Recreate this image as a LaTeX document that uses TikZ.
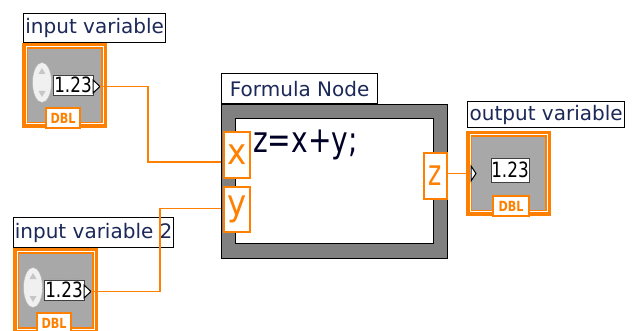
\documentclass[tikz,border=0pt]{standalone}
\usepackage{fontspec}
\setmainfont{DejaVu Sans}
\usepackage{graphicx}

\definecolor{lvorange}{RGB}{255,128,0}
\definecolor{ctlgray}{RGB}{168,168,168}
\definecolor{framegray}{RGB}{128,128,128}
\definecolor{lblblue}{RGB}{28,40,88}

\tikzset{
  lbl/.style={draw=black, line width=1.3pt, fill=white, anchor=north west,
    inner sep=0pt, text=lblblue, font=\fontsize{20}{20}\selectfont},
  wire/.style={draw=lvorange, line width=1.6pt},
  term/.style={draw=lvorange, line width=2pt, fill=white, anchor=north west,
    inner sep=0pt, text=lvorange, font=\fontsize{36}{36}\selectfont},
  dbltag/.style={draw=lvorange, line width=1.5pt, fill=white, inner sep=0pt,
    text=lvorange, font=\bfseries\fontsize{14}{14}\selectfont,
    minimum width=34pt, minimum height=20pt},
  numbox/.style={draw=black!75, line width=0.8pt, fill=white, inner sep=0pt,
    font=\fontsize{21}{21}\selectfont},
  tip/.style={draw=black, line width=1pt, fill=white},
  fframe/.style={draw=black, line width=1pt, fill=framegray, anchor=north west, inner sep=0pt},
  fbody/.style={draw=black, line width=1pt, fill=white, inner sep=0pt},
  % numeric control, value leaves on the right
  infr/.pic={
    \fill[lvorange] (0,0) rectangle (85,85);
    \fill[white] (3.5,3.5) rectangle (81.5,81.5);
    \filldraw[draw=lvorange, fill=ctlgray, line width=1.5pt] (5.25,5.25) rectangle (79.75,79.75);
    \filldraw[draw=gray!60, fill=gray!12] (20,39.5) ellipse (9.5pt and 20pt);
    \fill[gray!45] (20,25) -- (16.5,31) -- (23.5,31) -- cycle;
    \fill[gray!45] (20,54) -- (16.5,48) -- (23.5,48) -- cycle;
    \draw[gray!75, dotted, line width=1pt] (32,30) -- (70,30);
    \node[numbox, minimum width=40pt, minimum height=20pt] (-num) at (51,42) {\scalebox{0.8}[1]{1.23}};
    \filldraw[tip] (71,37) -- (78,43.5) -- (71,50) -- cycle;
    \coordinate (-out) at (78,43.5);
    \node[dbltag] (-type) at (41,75) {\scalebox{0.8}[1]{DBL}};
  },
  % numeric indicator, value comes in on the left
  outfr/.pic={
    \fill[lvorange] (0,0) rectangle (85,85);
    \fill[white] (3.5,3.5) rectangle (81.5,81.5);
    \filldraw[draw=lvorange, fill=ctlgray, line width=1.5pt] (5.25,5.25) rectangle (79.75,79.75);
    \draw[gray!75, dotted, line width=1pt] (26,25) -- (62,25);
    \node[numbox, minimum width=38pt, minimum height=24pt] (-num) at (44,39) {\scalebox{0.8}[1]{1.23}};
    \filldraw[tip] (5,35) -- (10,42.5) -- (5,50) -- cycle;
    \coordinate (-in) at (5,42.5);
    \node[dbltag, minimum width=36pt] (-type) at (45,75) {\scalebox{0.8}[1]{DBL}};
  }
}

\begin{document}
\begin{tikzpicture}[x=1pt,y=-1pt]
\useasboundingbox (0,0) rectangle (632,331);

% controls
\node[lbl, minimum width=142pt, minimum height=29pt] (lbl1) at (23,13) {input variable};
\pic (in1) at (22,43) {infr};
\node[lbl, minimum width=160pt, minimum height=30pt] (lbl2) at (13,217) {input variable 2};
\pic (in2) at (13,248) {infr};

% formula node
\node[lbl, minimum width=156pt, minimum height=30pt] (flbl) at (221,73) {Formula Node};
\node[fframe, minimum width=226pt, minimum height=154pt] (frame) at (221,104) {};
\node[fbody, minimum width=198pt, minimum height=125pt] (body) at (frame.center) {};
\node[anchor=base west, inner sep=0pt, text=black!85!blue, font=\fontsize{36}{36}\selectfont]
  (expr) at (253,153) {\scalebox{0.78}[1]{z=x+y;}};

% wires
\draw[wire] (in1-out) -- ++(48,0) |- ([yshift=-8pt]frame.west |- 0,154);
\draw[wire] (in2-out) -- ++(69,0) |- (frame.west |- 0,208.5);

\node[term, minimum width=26pt, minimum height=46pt] (x) at (223,131) {\scalebox{0.9}[1]{x}};
\node[term, minimum width=26pt, minimum height=45pt] (y) at (223,186) {\scalebox{0.9}[1]{y}};
\node[term, minimum width=23pt, minimum height=46pt] (z) at (423,152) {\scalebox{0.7}[1]{z}};

% indicator
\node[lbl, minimum width=157pt, minimum height=26pt] (lbl3) at (467,101) {output variable};
\pic (out) at (466,131) {outfr};
\draw[wire] (out-in -| z.east) -- (out-in);
\end{tikzpicture}
\end{document}
